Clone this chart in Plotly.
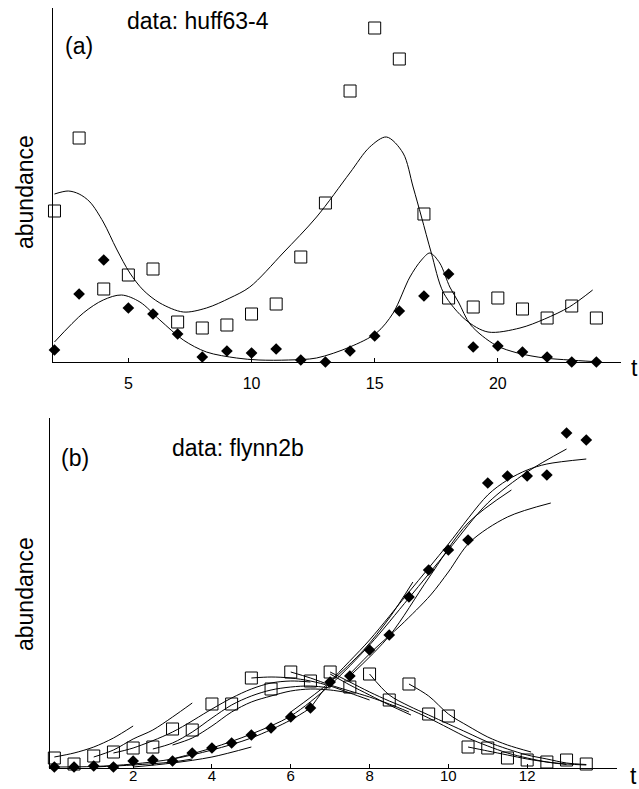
import plotly.graph_objects as go

# ---------------- Panel (a): data huff63-4 ----------------
A_T = list(range(2, 25))
A_SQUARES = [15.1, 22.4, 7.3, 8.7, 9.3, 4.0, 3.4, 3.7, 4.8, 5.8, 10.5, 15.9,
             27.1, 33.4, 30.3, 14.8, 6.4, 5.5, 6.4, 5.3, 4.4, 5.6, 4.4]
A_DIAMONDS = [1.2, 6.8, 10.2, 5.4, 4.8, 2.8, 0.5, 1.1, 0.9, 1.3, 0.2, 0.0,
              1.1, 2.6, 5.1, 6.6, 8.8, 1.5, 1.6, 1.0, 0.5, 0.0, 0.0]

A_FIT_SQ_T = [2.0, 2.56, 3.0, 3.44, 3.98, 4.52, 5.06, 5.6, 6.28, 7.23, 8.17, 9.12,
              9.93, 11.28, 12.64, 13.99, 14.8, 15.48, 16.15, 16.56, 16.9, 17.3,
              17.8, 18.7, 19.6, 20.9, 21.9, 22.9, 23.85]
A_FIT_SQ_Y = [16.8, 17.1, 16.8, 16.0, 14.0, 11.3, 8.9, 7.2, 5.9, 5.0, 5.4, 6.4,
              7.5, 10.9, 14.5, 18.9, 21.5, 22.5, 20.9, 17.5, 14.5, 10.9,
              6.9, 4.2, 3.0, 3.4, 4.3, 5.5, 7.2]

A_FIT_DI_T = [2.0, 3.17, 3.98, 4.72, 5.47, 6.28, 7.23, 8.17, 9.39, 10.3, 11.5,
              12.64, 13.99, 15.07, 15.75, 16.43, 16.9, 17.24, 17.64, 18.05, 18.4,
              18.9, 19.9, 20.8, 21.9, 22.9, 23.85]
A_FIT_DI_Y = [2.0, 4.9, 6.2, 6.7, 6.0, 4.2, 2.2, 1.0, 0.4, 0.2, 0.2,
              0.4, 1.5, 2.9, 4.9, 8.5, 10.2, 10.9, 9.9, 7.5, 6.0,
              3.7, 1.7, 0.9, 0.4, 0.2, 0.05]

A_XTICKS = [5, 10, 15, 20]

# ---------------- Panel (b): data flynn2b ----------------
B_T = [0, 0.5, 1, 1.5, 2, 2.5, 3, 3.5, 4, 4.5, 5, 5.5, 6, 6.5, 7, 7.5, 8, 8.5,
       9, 9.5, 10, 10.5, 11, 11.5, 12, 12.5, 13, 13.5]
B_SQUARES = [1.0, 0.4, 1.2, 1.6, 2.0, 2.1, 3.9, 3.8, 6.4, 6.4, 9.0, 7.9, 9.6, 8.7,
             9.6, 8.1, 9.4, 6.8, 8.4, 5.4, 5.2, 2.1, 2.0, 1.0, 0.8, 0.6, 0.8, 0.4]
B_DIAMONDS = [0.1, 0.1, 0.2, 0.1, 0.7, 0.8, 0.7, 1.5, 2.0, 2.5, 3.3, 4.0, 5.1, 6.0,
              8.6, 9.2, 11.8, 13.3, 17.1, 19.8, 21.8, 22.8, 28.5, 29.2, 29.2, 29.3,
              33.5, 32.8]

# fitted segments for the squares
SA_T = [0, 0.5, 1, 1.5, 2]
SA_Y = [1.1, 1.5, 2.1, 3.0, 4.2]
SB_T = [1, 1.5, 2, 2.5, 3, 3.5]
SB_Y = [1.1, 1.8, 2.9, 3.8, 5.1, 6.5]
SC_T = [1.5, 2, 3, 4, 4.5, 5, 5.5, 6, 6.5]
SC_Y = [1.5, 2.0, 3.6, 5.9, 7.0, 7.9, 8.5, 8.7, 8.6]
SD_T = [2.5, 3, 3.5, 4, 4.5, 5, 5.5, 6, 6.5, 7]
SD_Y = [1.9, 2.5, 3.6, 5.0, 6.3, 7.2, 7.8, 8.1, 8.2, 8.0]
SE_T = [3, 3.5, 4, 4.5, 5, 5.5, 6, 6.5, 7, 7.5]
SE_Y = [2.3, 3.0, 4.2, 5.6, 6.6, 7.2, 7.7, 7.9, 7.8, 7.5]
SF_T = [5, 5.5, 6, 6.5, 7, 7.5, 8]
SF_Y = [9.0, 9.1, 9.0, 8.7, 8.2, 7.5, 6.8]
SG_T = [6, 6.5, 7, 7.5, 8, 8.5, 9]
SG_Y = [9.6, 9.0, 8.3, 7.7, 7.1, 6.4, 5.6]
SH_T = [7, 7.5, 8, 8.5, 9, 9.5, 10, 10.5, 11, 11.5, 12, 12.5, 13]
SH_Y = [9.6, 8.6, 7.6, 6.7, 5.9, 5.0, 4.0, 3.0, 2.2, 1.5, 1.0, 0.6, 0.35]
SI_T = [8, 8.5, 9, 9.5, 10, 10.5, 11, 11.5, 12, 12.5, 13, 13.5]
SI_Y = [9.4, 7.3, 6.2, 5.3, 4.4, 3.5, 2.6, 1.9, 1.3, 0.9, 0.5, 0.35]
SJ_T = [9, 9.5, 10, 10.5, 11, 11.5, 12.1]
SJ_Y = [8.4, 7.2, 5.4, 4.2, 3.1, 2.3, 1.6]
SK_T = [10.5, 11, 11.5, 12, 12.5, 13, 13.5]
SK_Y = [2.1, 1.7, 1.3, 0.9, 0.6, 0.4, 0.3]
SL_T = [7, 7.5, 8, 8.5, 9.05]
SL_Y = [9.4, 8.3, 7.3, 6.3, 5.3]

# fitted segments for the diamonds
D1_T = [0, 1, 2, 3, 4, 5, 6, 6.5]
D1_Y = [0.1, 0.15, 0.4, 0.9, 1.8, 3.0, 4.8, 6.0]
D2_T = [1, 2, 3, 3.5]
D2_Y = [0.1, 0.3, 0.6, 0.9]
D3_T = [2, 3, 4, 5]
D3_Y = [0.1, 0.5, 1.1, 2.1]
D4_T = [3, 4, 5, 6, 7, 8, 9, 10, 11, 12, 13]
D4_Y = [0.9, 2.0, 3.4, 5.2, 8.3, 12.3, 17.0, 21.8, 26.5, 29.6, 31.9]
D5_T = [6.5, 7, 8, 9, 10, 11, 11.5, 12, 12.5, 13.5]
D5_Y = [6.0, 8.6, 12.8, 17.6, 22.4, 27.3, 28.8, 29.8, 30.4, 30.9]
D6_T = [6.0, 7.0, 7.85, 8.5, 9.1]
D6_Y = [5.6, 8.6, 11.8, 15.0, 18.6]
D7_T = [7.5, 8.5, 9.5, 10.5, 11.6]
D7_Y = [9.2, 13.2, 19.0, 24.5, 27.8]
D8_T = [7.5, 8.1, 8.8, 9.55, 10.0, 10.55, 11.5, 12.6]
D8_Y = [9.4, 11.8, 14.3, 17.3, 19.6, 22.6, 25.1, 26.5]

B_XTICKS = [2, 4, 6, 8, 10, 12]

SQ_SEGMENTS = [(SA_T, SA_Y), (SB_T, SB_Y), (SC_T, SC_Y), (SD_T, SD_Y), (SE_T, SE_Y),
               (SF_T, SF_Y), (SG_T, SG_Y), (SH_T, SH_Y), (SI_T, SI_Y), (SJ_T, SJ_Y),
               (SK_T, SK_Y), (SL_T, SL_Y)]
DI_SEGMENTS = [(D1_T, D1_Y), (D2_T, D2_Y), (D3_T, D3_Y), (D4_T, D4_Y), (D5_T, D5_Y),
               (D6_T, D6_Y), (D7_T, D7_Y), (D8_T, D8_Y)]

# ---------------- figure ----------------
W, H = 639, 789
FONT = "Liberation Sans, Arial, Helvetica, sans-serif"


def px(x):
    return x / W


def py(y):
    return 1 - y / H


fig = go.Figure()

line_style = dict(color="black", width=1, shape="spline", smoothing=0.9)

# panel a curves
for t, y in [(A_FIT_SQ_T, A_FIT_SQ_Y), (A_FIT_DI_T, A_FIT_DI_Y)]:
    fig.add_trace(go.Scatter(x=t, y=y, mode="lines", line=line_style,
                             xaxis="x", yaxis="y", hoverinfo="skip", showlegend=False))
fig.add_trace(go.Scatter(x=A_T, y=A_SQUARES, mode="markers", xaxis="x", yaxis="y",
                         marker=dict(symbol="square-open", size=12, color="black",
                                     line=dict(width=1, color="black")),
                         cliponaxis=False, showlegend=False))
fig.add_trace(go.Scatter(x=A_T, y=A_DIAMONDS, mode="markers", xaxis="x", yaxis="y",
                         marker=dict(symbol="diamond", size=9, color="black",
                                     line=dict(width=0)),
                         cliponaxis=False, showlegend=False))

# panel b curves
for t, y in SQ_SEGMENTS + DI_SEGMENTS:
    fig.add_trace(go.Scatter(x=t, y=y, mode="lines", line=line_style,
                             xaxis="x2", yaxis="y2", hoverinfo="skip", showlegend=False))
fig.add_trace(go.Scatter(x=B_T, y=B_SQUARES, mode="markers", xaxis="x2", yaxis="y2",
                         marker=dict(symbol="square-open", size=12, color="black",
                                     line=dict(width=1, color="black")),
                         cliponaxis=False, showlegend=False))
fig.add_trace(go.Scatter(x=B_T, y=B_DIAMONDS, mode="markers", xaxis="x2", yaxis="y2",
                         marker=dict(symbol="diamond", size=9, color="black",
                                     line=dict(width=0)),
                         cliponaxis=False, showlegend=False))

xcommon = dict(showline=True, linecolor="black", linewidth=1, showgrid=False,
               zeroline=False, ticks="inside", ticklen=4, tickcolor="black",
               mirror=False)
ycommon = dict(showline=True, linecolor="black", linewidth=1, showgrid=False,
               zeroline=False, ticks="", showticklabels=False, mirror=False)

fig.update_layout(
    width=W, height=H,
    margin=dict(l=0, r=0, t=0, b=0),
    paper_bgcolor="white", plot_bgcolor="white",
    font=dict(family=FONT, color="black"),
    showlegend=False,
    xaxis=dict(**xcommon, domain=[px(53), px(621)], range=[1.94, 25.0],
               tickvals=A_XTICKS, anchor="y", ticklabelstandoff=7,
               tickfont=dict(family=FONT, size=16, color="black")),
    yaxis=dict(**ycommon, domain=[py(362), py(8)], range=[0, 35.4], anchor="x"),
    xaxis2=dict(**xcommon, domain=[px(50), px(617)], range=[-0.11, 14.28],
                tickvals=B_XTICKS, anchor="y2", ticklabelstandoff=-6,
                tickfont=dict(family=FONT, size=15, color="black")),
    yaxis2=dict(**ycommon, domain=[py(768), py(418)], range=[0, 35.0], anchor="x2"),
)

big = dict(family=FONT, size=23, color="black")
annos = [
    dict(text="abundance", x=px(25), y=py(192), textangle=-90),
    dict(text="abundance", x=px(25), y=py(594), textangle=-90),
    dict(text="(a)", x=px(79), y=py(46)),
    dict(text="(b)", x=px(75), y=py(458)),
    dict(text="data: huff63-4", x=px(198), y=py(21)),
    dict(text="data: flynn2b", x=px(238), y=py(448)),
    dict(text="t", x=px(634), y=py(368)),
    dict(text="t", x=px(633), y=py(776)),
]
for a in annos:
    fig.add_annotation(xref="paper", yref="paper", showarrow=False, font=big,
                       xanchor="center", yanchor="middle", **a)

fig.write_html(
    "out.html",
    config={"displayModeBar": False},
    post_script="document.body.style.margin='0px';document.body.style.overflow='hidden';",
)
